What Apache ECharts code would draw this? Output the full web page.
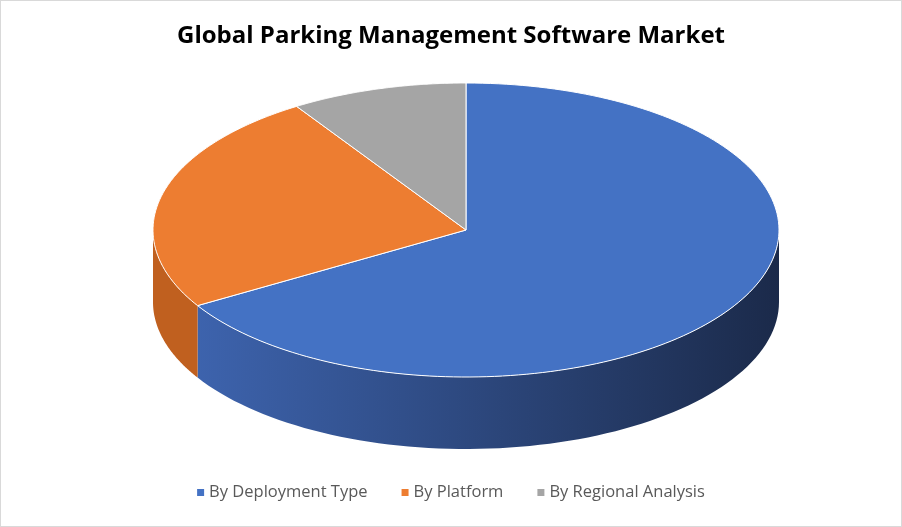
<!DOCTYPE html>
<html><head><meta charset="utf-8">
<script src="https://cdn.jsdelivr.net/npm/echarts@6/dist/echarts.min.js"></script>
<style>html,body{margin:0;padding:0;background:#fff}#c{width:900px;height:525px;border:1px solid #d9d9d9}</style>
</head><body><div id="c"></div>
<script>
const categories = ['By Deployment Type', 'By Platform', 'By Regional Analysis'];
const values = [66.4, 24.5, 9.1];
const colors = ['#4472c4', '#ed7d31', '#a5a5a5'];
const sideColors = [['#3d63ad', '#1b2a4a'], ['#c0601f', '#c0601f'], ['#8a8a8a', '#7a7a7a']];

const total = values.reduce((a, b) => a + b, 0);
const starts = [];
let acc = 0;
values.forEach(v => { starts.push(acc / total * Math.PI * 2); acc += v; });

const chart = echarts.init(document.getElementById('c'));
const geo = { cx: 465, cy: 229, rx: 313, ry: 147, depth: 72 };
function pt(t, dy) { return [geo.cx + geo.rx * Math.sin(t), geo.cy - geo.ry * Math.cos(t) + (dy || 0)]; }

function makeRender(i) {
  return function (params, api) {
    const a1 = starts[i], a2 = a1 + values[i] / total * Math.PI * 2;
    const children = [];
    const f1 = Math.max(a1, Math.PI / 2), f2 = Math.min(a2, Math.PI * 1.5);
    if (f2 > f1) {
      const top = [], bot = [];
      const n = 80;
      for (let k = 0; k <= n; k++) {
        const t = f1 + (f2 - f1) * k / n;
        top.push(pt(t)); bot.push(pt(t, geo.depth));
      }
      children.push({
        type: 'polygon', shape: { points: top.concat(bot.reverse()) },
        style: { fill: new echarts.graphic.LinearGradient(0, 0, 1, 0, [
          { offset: 0, color: sideColors[i][0] }, { offset: 1, color: sideColors[i][1] }]) }
      });
    }
    const pts = [[geo.cx, geo.cy]];
    const n = 160;
    for (let k = 0; k <= n; k++) pts.push(pt(a1 + (a2 - a1) * k / n));
    children.push({ type: 'polygon', shape: { points: pts }, style: { fill: colors[i], stroke: '#ffffff', lineWidth: 1 } });
    return { type: 'group', children };
  };
}

chart.setOption({
  animation: false,
  title: { text: 'Global Parking Management Software Market', left: 'center', top: 18,
    textStyle: { fontFamily: 'Open Sans', fontWeight: 'bold', fontSize: 24, color: '#000' } },
  legend: { bottom: 20, itemWidth: 7, itemHeight: 7, itemGap: 34, icon: 'rect',
    textStyle: { fontFamily: 'Open Sans', fontSize: 16.5, color: '#595959' }, data: categories },
  series: categories.map((name, i) => ({
    type: 'custom', name, coordinateSystem: 'none', itemStyle: { color: colors[i] },
    renderItem: makeRender(i), data: [values[i]], z: 2
  }))
});
</script></body></html>
